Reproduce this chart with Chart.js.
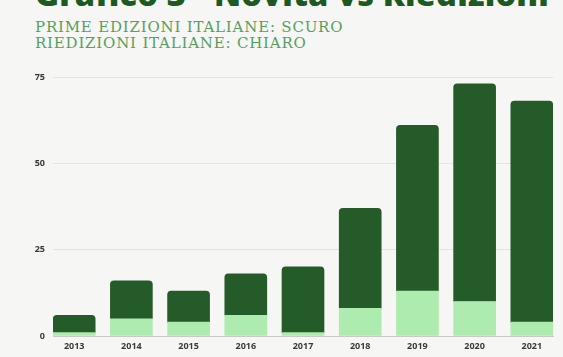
<!DOCTYPE html>
<html lang="it">
<head>
<meta charset="utf-8">
<script src="https://cdn.jsdelivr.net/npm/chart.js@4.4.1/dist/chart.umd.min.js"></script>
<style>
  html, body { margin: 0; padding: 0; background: #f6f6f4; }
  #wrap { position: relative; width: 563px; height: 357px; overflow: hidden; background: #f6f6f4; }
  #title {
    position: absolute; left: 35px; top: -22px; margin: 0;
    font-family: "Open Sans", sans-serif; font-weight: 800; font-size: 32.5px;
    line-height: 32px; color: #1d5a21; white-space: nowrap; letter-spacing: 0.2px;
  }
  .sub {
    position: absolute; left: 35px; margin: 0;
    font-family: "DejaVu Serif", serif; font-size: 15px; line-height: 16px;
    color: #56a05d; white-space: nowrap; letter-spacing: 0.8px;
  }
  #sub1 { top: 19px; }
  #sub2 { top: 35px; }
  #chart { position: absolute; left: 0; top: 0; }
</style>
</head>
<body>
<div id="wrap">
  <div id="title">Grafico 3 - Novità vs Riedizioni</div>
  <div class="sub" id="sub1">PRIME EDIZIONI ITALIANE: SCURO</div>
  <div class="sub" id="sub2">RIEDIZIONI ITALIANE: CHIARO</div>
  <canvas id="chart" width="563" height="357"></canvas>
</div>
<script>
// Years on the horizontal axis
const years = ['2013', '2014', '2015', '2016', '2017', '2018', '2019', '2020', '2021'];
// Italian reissues (light segment, bottom of each stack)
const riedizioni = [1, 5, 4, 6, 1, 8, 13, 10, 4];
// Italian first editions (dark segment, top of each stack)
const primeEdizioni = [5, 11, 9, 12, 19, 29, 48, 63, 64];
// Value-axis ticks
const yTicks = [0, 25, 50, 75];

const toPoints = arr => arr.map((v, i) => ({ x: i, y: v }));

const tickFont = { family: '"Open Sans", sans-serif', size: 9, weight: 'bold' };

new Chart(document.getElementById('chart'), {
  type: 'bar',
  data: {
    datasets: [
      {
        label: 'Riedizioni italiane',
        data: toPoints(riedizioni),
        backgroundColor: '#aeebae',
        barThickness: 42,
        borderRadius: 0
      },
      {
        label: 'Prime edizioni italiane',
        data: toPoints(primeEdizioni),
        backgroundColor: '#255b28',
        barThickness: 42,
        borderRadius: { topLeft: 4, topRight: 4 },
        borderSkipped: false
      }
    ]
  },
  options: {
    responsive: false,
    animation: false,
    layout: { padding: { top: 77, right: 10, bottom: 0, left: 0 } },
    plugins: { legend: { display: false }, tooltip: { enabled: false }, title: { display: false } },
    scales: {
      x: {
        type: 'linear',
        stacked: true,
        offset: false,
        min: -0.37,
        max: years.length - 1 + 0.37,
        afterFit: scale => { scale.height = 21; },
        grid: { display: false, drawTicks: false },
        border: { display: true, color: '#c9c9c9', width: 1 },
        ticks: {
          stepSize: 1,
          includeBounds: false,
          autoSkip: false,
          maxRotation: 0,
          padding: 5,
          color: '#3a3a3a',
          font: tickFont,
          callback: v => (Number.isInteger(v) && years[v]) ? years[v] : ''
        }
      },
      y: {
        stacked: true,
        min: yTicks[0],
        max: yTicks[yTicks.length - 1],
        afterFit: scale => { scale.width = 53; },
        afterBuildTicks: scale => { scale.ticks = yTicks.map(v => ({ value: v })); },
        grid: { color: '#e3e3e1', lineWidth: 1, drawTicks: false },
        border: { display: false },
        ticks: {
          padding: 8,
          color: '#3a3a3a',
          font: tickFont
        }
      }
    }
  }
});
</script>
</body>
</html>
